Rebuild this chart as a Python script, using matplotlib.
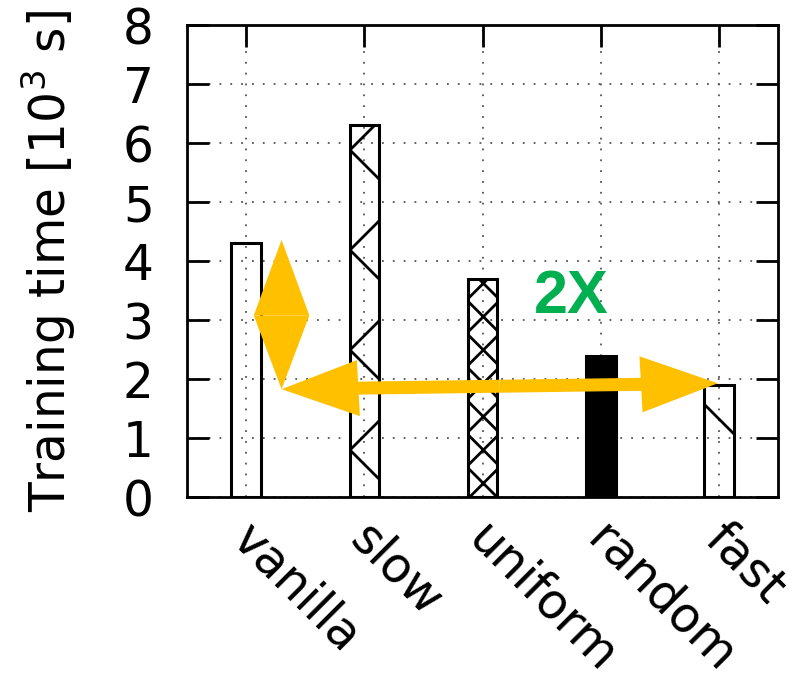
import numpy as np
import matplotlib
matplotlib.use("Agg")
import matplotlib.pyplot as plt
import matplotlib.patches as mpatches
from matplotlib.backend_bases import GraphicsContextBase

# Bar data
methods = ['vanilla', 'slow', 'uniform', 'random', 'fast']
times = [4.3, 6.3, 3.7, 2.4, 1.9]
hatches = ['', 'x', 'xxx', '', '\\']
fills = ['none', 'none', 'none', 'black', 'none']

# sparser hatching, closer to the gnuplot patterns
_orig_hatch = GraphicsContextBase.get_hatch_path
GraphicsContextBase.get_hatch_path = lambda self, density=6.0: _orig_hatch(self, density=2.0)

plt.rcParams['font.family'] = 'DejaVu Sans'
plt.rcParams['hatch.linewidth'] = 2.0

fig = plt.figure(figsize=(7.94, 6.81), dpi=100)
ax = fig.add_axes([0.2355, 0.270, 0.7445, 0.693])

x = np.arange(len(methods))
ax.bar(x, times, width=0.25, facecolor=fills, edgecolor='black', hatch=hatches,
       linewidth=2.2, zorder=3)

ax.set_xlim(-0.5, len(methods) - 0.5)
ax.set_ylim(0, 8)
ax.set_yticks(range(0, 9))
# major ticks carry the marks/grid, minor ticks (slightly offset) carry the labels
ax.set_xticks(x)
ax.set_xticklabels([])
ax.set_xticks(x + 0.09, minor=True)
ax.set_xticklabels(methods, minor=True, rotation=-45, ha='left', va='top',
                   rotation_mode='anchor')

ax.grid(True, which='major', color='#555555', linestyle=(0, (1, 5)), linewidth=1.3)
ax.set_axisbelow(True)
for s in ax.spines.values():
    s.set_linewidth(2)

ax.tick_params(axis='y', direction='in', length=16, width=2, right=True,
               labelsize=35, pad=24)
ax.tick_params(axis='x', which='major', direction='in', length=16, width=2,
               top=True, bottom=False)
ax.tick_params(axis='x', which='minor', length=0, top=False, bottom=True,
               labelsize=35, pad=13)
ax.set_ylabel('Training time [10$^3$ s]', fontsize=35, labelpad=32)

# Orange annotation arrows
orange = '#FFC000'
# vertical diamond (two heads meeting in the middle)
xd, ytop, ybot = 0.30, 4.36, 1.83
ymid = 3.08
for y_end in (ytop, ybot):
    ax.add_patch(mpatches.FancyArrow(xd, ymid, 0, y_end - ymid, width=0,
                                     head_width=0.47, head_length=abs(y_end - ymid),
                                     length_includes_head=True, color=orange,
                                     lw=0, zorder=5))
# horizontal double arrow
x0, y0, x1, y1 = 0.30, 1.83, 3.99, 1.93
xm, ym = (x0 + x1) / 2, (y0 + y1) / 2
for xe, ye in ((x0, y0), (x1, y1)):
    ax.add_patch(mpatches.FancyArrow(xm, ym, xe - xm, ye - ym, width=0.22,
                                     head_width=0.95, head_length=0.65,
                                     length_includes_head=True, color=orange,
                                     lw=0, zorder=5))

ax.text(2.75, 3.39, '2X', color='#00B050', fontsize=44, fontweight='bold',
        family='Liberation Sans', ha='center', va='center', zorder=6)

plt.savefig('out.png', dpi=100)
